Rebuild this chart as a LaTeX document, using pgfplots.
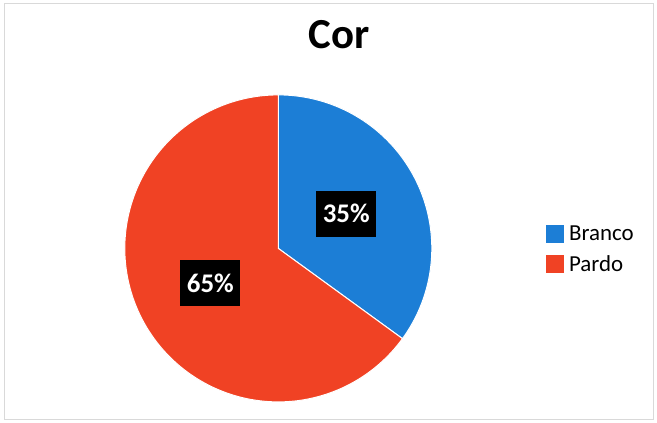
\documentclass[border=0pt]{standalone}
\usepackage{fontspec}
\setmainfont{Carlito}
\usepackage{pgfplots}
\pgfplotsset{compat=1.18}
\usepackage{pgfplotstable}
\definecolor{cBlue}{RGB}{28,126,214}
\definecolor{cRed}{RGB}{240,66,36}
% data: share (%) of each category
\pgfplotstableread{
cat value
Branco 35
Pardo 65
}\piedata
\pgfplotstablegetelem{0}{value}\of\piedata \edef\vA{\pgfplotsretval}
\pgfplotstablegetelem{1}{value}\of\piedata \edef\vB{\pgfplotsretval}
\pgfmathsetmacro{\aStart}{90}
\pgfmathsetmacro{\aMid}{90-3.6*\vA}
\pgfmathsetmacro{\aEnd}{\aMid-3.6*\vB}
\pgfmathsetmacro{\mA}{(\aStart+\aMid)/2}
\pgfmathsetmacro{\mB}{(\aMid+\aEnd)/2}
\begin{document}
\begin{tikzpicture}
\path[use as bounding box] (0,0) rectangle (657bp,423bp);
\fill[white] (0,0) rectangle (657bp,423bp);
\draw[gray!30, line width=1pt] (4bp,4bp) rectangle (653bp,419bp);
\node[anchor=base, font=\bfseries\fontsize{43}{43}\selectfont] at (339bp,374.7bp) {Cor};
\begin{axis}[
  at={(278.3bp,174.6bp)}, anchor=origin,
  x=153.5bp, y=153.5bp,
  xmin=-1, xmax=1, ymin=-1, ymax=1,
  hide axis, clip=false,
  legend style={at={(axis cs:1.737,0.172)}, anchor=north west, draw=none, fill=none,
    font=\fontsize{23}{23}\selectfont, inner sep=0pt, row sep=5bp,
    nodes={inner sep=4bp}},
  legend image code/.code={\fill[#1] (0bp,-9.5bp) rectangle (19bp,9.5bp);},
  legend cell align=left,
]
\addplot[fill=cBlue, draw=white, line width=1pt, domain=\aMid:\aStart, samples=120]
  ({cos(x)},{sin(x)}) -- (axis cs:0,0) -- cycle;
\addlegendentry{Branco}
\addplot[fill=cRed, draw=white, line width=1pt, domain=\aEnd:\aMid, samples=200]
  ({cos(x)},{sin(x)}) -- (axis cs:0,0) -- cycle;
\addlegendentry{Pardo}
\node[fill=black, text=white, font=\bfseries\fontsize{27}{27}\selectfont,
  minimum width=60bp, minimum height=46bp, inner sep=0pt]
  at (axis cs:{0.497*cos(\mA)},{0.497*sin(\mA)}) {\vA\%};
\node[fill=black, text=white, font=\bfseries\fontsize{27}{27}\selectfont,
  minimum width=60bp, minimum height=46bp, inner sep=0pt]
  at (axis cs:{0.497*cos(\mB)},{0.497*sin(\mB)}) {\vB\%};
\end{axis}
\end{tikzpicture}
\end{document}
